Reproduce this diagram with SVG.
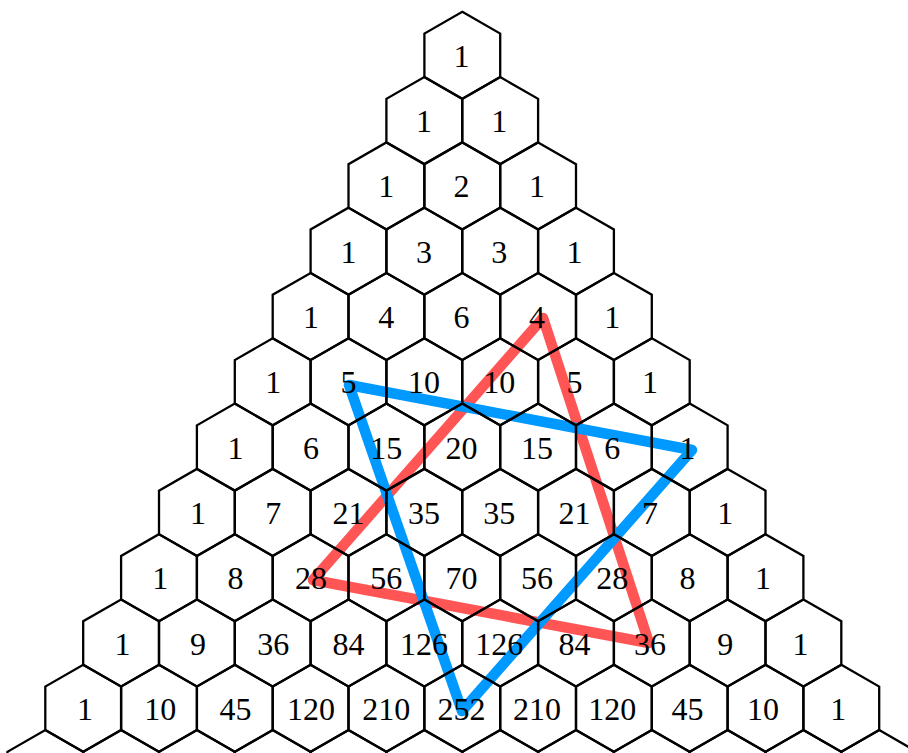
<svg xmlns="http://www.w3.org/2000/svg" xmlns:xlink="http://www.w3.org/1999/xlink" width="908" height="753" viewBox="0 0 908 753">
<style>
.hex{fill:none;stroke:#000;stroke-width:2.3;stroke-linejoin:miter}
.lbl{font-family:"Liberation Serif","Times New Roman",serif;font-size:32px;text-anchor:middle;fill:#000}
.star{fill:none;stroke-width:10.5;stroke-linejoin:round;stroke-linecap:round}
.red{stroke:#ff5555}
.blue{stroke:#0099ff}
</style>
<defs>
<path id="hex" d="M0,-43.5 L37.9,-21.75 L37.9,21.75 L0,43.5 L-37.9,21.75 L-37.9,-21.75 Z"/>
</defs>
<rect width="908" height="753" fill="#fff"/>
<g id="connectors">
<polygon class="star red" points="543,318 313,580 649,643"/>
<polygon class="star blue" points="349,385 692,450 462,711"/>
</g>
<g id="nodes">
<g id="n0-0"><use href="#hex" class="hex" x="462.3" y="55.3"/><text class="lbl" x="461.6" y="66.8">1</text></g>

<g id="n1-0"><use href="#hex" class="hex" x="424.3" y="120.6"/><text class="lbl" x="423.9" y="132.1">1</text></g>
<g id="n1-1"><use href="#hex" class="hex" x="500.2" y="120.6"/><text class="lbl" x="499.3" y="132.1">1</text></g>

<g id="n2-0"><use href="#hex" class="hex" x="386.4" y="185.9"/><text class="lbl" x="386.3" y="197.4">1</text></g>
<g id="n2-1"><use href="#hex" class="hex" x="462.3" y="185.9"/><text class="lbl" x="461.6" y="197.4">2</text></g>
<g id="n2-2"><use href="#hex" class="hex" x="538.1" y="185.9"/><text class="lbl" x="536.9" y="197.4">1</text></g>

<g id="n3-0"><use href="#hex" class="hex" x="348.5" y="251.2"/><text class="lbl" x="348.6" y="262.7">1</text></g>
<g id="n3-1"><use href="#hex" class="hex" x="424.3" y="251.2"/><text class="lbl" x="423.9" y="262.7">3</text></g>
<g id="n3-2"><use href="#hex" class="hex" x="500.2" y="251.2"/><text class="lbl" x="499.3" y="262.7">3</text></g>
<g id="n3-3"><use href="#hex" class="hex" x="576.0" y="251.2"/><text class="lbl" x="574.6" y="262.7">1</text></g>

<g id="n4-0"><use href="#hex" class="hex" x="310.6" y="316.5"/><text class="lbl" x="310.9" y="328">1</text></g>
<g id="n4-1"><use href="#hex" class="hex" x="386.4" y="316.5"/><text class="lbl" x="386.3" y="328">4</text></g>
<g id="n4-2"><use href="#hex" class="hex" x="462.3" y="316.5"/><text class="lbl" x="461.6" y="328">6</text></g>
<g id="n4-3"><use href="#hex" class="hex" x="538.1" y="316.5"/><text class="lbl" x="536.9" y="328">4</text></g>
<g id="n4-4"><use href="#hex" class="hex" x="613.9" y="316.5"/><text class="lbl" x="612.3" y="328">1</text></g>

<g id="n5-0"><use href="#hex" class="hex" x="272.7" y="381.8"/><text class="lbl" x="273.3" y="393.3">1</text></g>
<g id="n5-1"><use href="#hex" class="hex" x="348.5" y="381.8"/><text class="lbl" x="348.6" y="393.3">5</text></g>
<g id="n5-2"><use href="#hex" class="hex" x="424.3" y="381.8"/><text class="lbl" x="423.9" y="393.3">10</text></g>
<g id="n5-3"><use href="#hex" class="hex" x="500.2" y="381.8"/><text class="lbl" x="499.3" y="393.3">10</text></g>
<g id="n5-4"><use href="#hex" class="hex" x="576.0" y="381.8"/><text class="lbl" x="574.6" y="393.3">5</text></g>
<g id="n5-5"><use href="#hex" class="hex" x="651.8" y="381.8"/><text class="lbl" x="649.9" y="393.3">1</text></g>

<g id="n6-0"><use href="#hex" class="hex" x="234.8" y="447.1"/><text class="lbl" x="235.6" y="458.6">1</text></g>
<g id="n6-1"><use href="#hex" class="hex" x="310.6" y="447.1"/><text class="lbl" x="310.9" y="458.6">6</text></g>
<g id="n6-2"><use href="#hex" class="hex" x="386.4" y="447.1"/><text class="lbl" x="386.3" y="458.6">15</text></g>
<g id="n6-3"><use href="#hex" class="hex" x="462.3" y="447.1"/><text class="lbl" x="461.6" y="458.6">20</text></g>
<g id="n6-4"><use href="#hex" class="hex" x="538.1" y="447.1"/><text class="lbl" x="536.9" y="458.6">15</text></g>
<g id="n6-5"><use href="#hex" class="hex" x="613.9" y="447.1"/><text class="lbl" x="612.3" y="458.6">6</text></g>
<g id="n6-6"><use href="#hex" class="hex" x="689.7" y="447.1"/><text class="lbl" x="687.6" y="458.6">1</text></g>

<g id="n7-0"><use href="#hex" class="hex" x="196.9" y="512.4"/><text class="lbl" x="197.9" y="523.9">1</text></g>
<g id="n7-1"><use href="#hex" class="hex" x="272.7" y="512.4"/><text class="lbl" x="273.3" y="523.9">7</text></g>
<g id="n7-2"><use href="#hex" class="hex" x="348.5" y="512.4"/><text class="lbl" x="348.6" y="523.9">21</text></g>
<g id="n7-3"><use href="#hex" class="hex" x="424.3" y="512.4"/><text class="lbl" x="423.9" y="523.9">35</text></g>
<g id="n7-4"><use href="#hex" class="hex" x="500.2" y="512.4"/><text class="lbl" x="499.3" y="523.9">35</text></g>
<g id="n7-5"><use href="#hex" class="hex" x="576.0" y="512.4"/><text class="lbl" x="574.6" y="523.9">21</text></g>
<g id="n7-6"><use href="#hex" class="hex" x="651.8" y="512.4"/><text class="lbl" x="649.9" y="523.9">7</text></g>
<g id="n7-7"><use href="#hex" class="hex" x="727.6" y="512.4"/><text class="lbl" x="725.3" y="523.9">1</text></g>

<g id="n8-0"><use href="#hex" class="hex" x="159.0" y="577.7"/><text class="lbl" x="160.3" y="589.2">1</text></g>
<g id="n8-1"><use href="#hex" class="hex" x="234.8" y="577.7"/><text class="lbl" x="235.6" y="589.2">8</text></g>
<g id="n8-2"><use href="#hex" class="hex" x="310.6" y="577.7"/><text class="lbl" x="310.9" y="589.2">28</text></g>
<g id="n8-3"><use href="#hex" class="hex" x="386.4" y="577.7"/><text class="lbl" x="386.3" y="589.2">56</text></g>
<g id="n8-4"><use href="#hex" class="hex" x="462.3" y="577.7"/><text class="lbl" x="461.6" y="589.2">70</text></g>
<g id="n8-5"><use href="#hex" class="hex" x="538.1" y="577.7"/><text class="lbl" x="536.9" y="589.2">56</text></g>
<g id="n8-6"><use href="#hex" class="hex" x="613.9" y="577.7"/><text class="lbl" x="612.3" y="589.2">28</text></g>
<g id="n8-7"><use href="#hex" class="hex" x="689.7" y="577.7"/><text class="lbl" x="687.6" y="589.2">8</text></g>
<g id="n8-8"><use href="#hex" class="hex" x="765.5" y="577.7"/><text class="lbl" x="762.9" y="589.2">1</text></g>

<g id="n9-0"><use href="#hex" class="hex" x="121.1" y="643.0"/><text class="lbl" x="122.6" y="654.5">1</text></g>
<g id="n9-1"><use href="#hex" class="hex" x="196.9" y="643.0"/><text class="lbl" x="197.9" y="654.5">9</text></g>
<g id="n9-2"><use href="#hex" class="hex" x="272.7" y="643.0"/><text class="lbl" x="273.3" y="654.5">36</text></g>
<g id="n9-3"><use href="#hex" class="hex" x="348.5" y="643.0"/><text class="lbl" x="348.6" y="654.5">84</text></g>
<g id="n9-4"><use href="#hex" class="hex" x="424.3" y="643.0"/><text class="lbl" x="423.9" y="654.5">126</text></g>
<g id="n9-5"><use href="#hex" class="hex" x="500.2" y="643.0"/><text class="lbl" x="499.3" y="654.5">126</text></g>
<g id="n9-6"><use href="#hex" class="hex" x="576.0" y="643.0"/><text class="lbl" x="574.6" y="654.5">84</text></g>
<g id="n9-7"><use href="#hex" class="hex" x="651.8" y="643.0"/><text class="lbl" x="649.9" y="654.5">36</text></g>
<g id="n9-8"><use href="#hex" class="hex" x="727.6" y="643.0"/><text class="lbl" x="725.3" y="654.5">9</text></g>
<g id="n9-9"><use href="#hex" class="hex" x="803.4" y="643.0"/><text class="lbl" x="800.6" y="654.5">1</text></g>

<g id="n10-0"><use href="#hex" class="hex" x="83.2" y="708.3"/><text class="lbl" x="85.0" y="719.8">1</text></g>
<g id="n10-1"><use href="#hex" class="hex" x="159.0" y="708.3"/><text class="lbl" x="160.3" y="719.8">10</text></g>
<g id="n10-2"><use href="#hex" class="hex" x="234.8" y="708.3"/><text class="lbl" x="235.6" y="719.8">45</text></g>
<g id="n10-3"><use href="#hex" class="hex" x="310.6" y="708.3"/><text class="lbl" x="310.9" y="719.8">120</text></g>
<g id="n10-4"><use href="#hex" class="hex" x="386.4" y="708.3"/><text class="lbl" x="386.3" y="719.8">210</text></g>
<g id="n10-5"><use href="#hex" class="hex" x="462.3" y="708.3"/><text class="lbl" x="461.6" y="719.8">252</text></g>
<g id="n10-6"><use href="#hex" class="hex" x="538.1" y="708.3"/><text class="lbl" x="536.9" y="719.8">210</text></g>
<g id="n10-7"><use href="#hex" class="hex" x="613.9" y="708.3"/><text class="lbl" x="612.3" y="719.8">120</text></g>
<g id="n10-8"><use href="#hex" class="hex" x="689.7" y="708.3"/><text class="lbl" x="687.6" y="719.8">45</text></g>
<g id="n10-9"><use href="#hex" class="hex" x="765.5" y="708.3"/><text class="lbl" x="762.9" y="719.8">10</text></g>
<g id="n10-10"><use href="#hex" class="hex" x="841.3" y="708.3"/><text class="lbl" x="838.3" y="719.8">1</text></g>

<g id="n11-0"><use href="#hex" class="hex" x="45.3" y="773.6"/></g>
<g id="n11-1"><use href="#hex" class="hex" x="121.1" y="773.6"/></g>
<g id="n11-2"><use href="#hex" class="hex" x="196.9" y="773.6"/></g>
<g id="n11-3"><use href="#hex" class="hex" x="272.7" y="773.6"/></g>
<g id="n11-4"><use href="#hex" class="hex" x="348.5" y="773.6"/></g>
<g id="n11-5"><use href="#hex" class="hex" x="424.3" y="773.6"/></g>
<g id="n11-6"><use href="#hex" class="hex" x="500.2" y="773.6"/></g>
<g id="n11-7"><use href="#hex" class="hex" x="576.0" y="773.6"/></g>
<g id="n11-8"><use href="#hex" class="hex" x="651.8" y="773.6"/></g>
<g id="n11-9"><use href="#hex" class="hex" x="727.6" y="773.6"/></g>
<g id="n11-10"><use href="#hex" class="hex" x="803.4" y="773.6"/></g>
<g id="n11-11"><use href="#hex" class="hex" x="879.2" y="773.6"/></g>
</g>
</svg>
